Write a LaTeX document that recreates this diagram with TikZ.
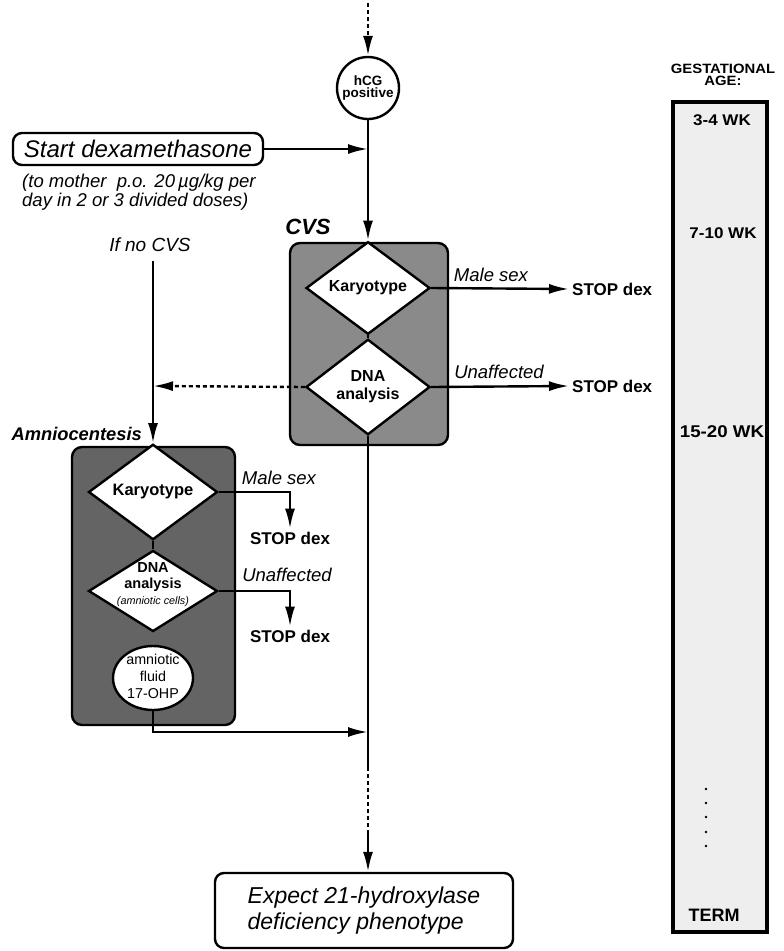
\documentclass[tikz,border=0pt]{standalone}
\usepackage{fontspec}
\setmainfont{Liberation Sans}
\newfontfamily\widefont[FakeStretch=1.1]{Liberation Sans}
\usetikzlibrary{arrows.meta,shapes.geometric}
\newcommand{\fsz}[2]{\fontsize{#1}{#2}\selectfont}
\definecolor{cvsgray}{RGB}{138,138,138}
\definecolor{amngray}{RGB}{100,100,100}
\definecolor{barfill}{RGB}{238,238,238}
\begin{document}
\begin{tikzpicture}[x=1pt,y=-1pt,
  line width=2.4pt,
  arr/.style={-{Latex[length=20pt,width=10pt]}},
  dsh/.style={dash pattern=on 4pt off 3pt},
  dia/.style={shape=diamond, draw, fill=white, line width=2.4pt, minimum width=124pt, minimum height=80pt, inner sep=0pt, align=center},
  rbox/.style={draw, rounded corners=9pt, line width=2.4pt, fill=white},
  grp/.style={draw, rounded corners=10pt, line width=2.4pt, inner sep=0pt},
  lbl/.style={inner sep=0pt, font=\itshape\fsz{18.5}{20}},
  stopn/.style={inner sep=2pt, font=\bfseries\fsz{17}{20}},
  wk/.style={inner sep=0pt, font=\widefont\bfseries\fsz{15.5}{16}},
]
\path[use as bounding box] (0,0) rectangle (784,951);

% group boxes
\node[grp, fill=cvsgray, minimum width=158pt, minimum height=202pt] (cvsbox) at (369,344) {};
\node[grp, fill=amngray, minimum width=163pt, minimum height=278pt] (amnbox) at (153.5,586) {};

% top
\coordinate (top) at (368,3);
\coordinate (t2) at (368,36);
\node[circle, draw, fill=white, minimum size=62pt, inner sep=0pt, align=center, font=\bfseries\fsz{13.5}{12.5}] (hcg) at (368,88) {hCG\\positive};
\draw[dsh] (top) -- (t2);
\draw[arr] (t2) -- (hcg.north);

% dexamethasone
\node[rbox, minimum width=250pt, minimum height=32pt, inner sep=0pt, font=\itshape\fsz{24}{26}] (dex) at (138,149) {Start dexamethasone};
\node[anchor=west, align=left, inner sep=0pt, font=\itshape\fsz{18.5}{19}] (sub) at (21,192) {(to mother\ \ p.o. 20\,µg/kg per\\day in 2 or 3 divided doses)};
\coordinate (j1) at (368,149);
\draw[arr] (dex.east) -- (j1);

% CVS
\node[inner sep=0pt, font=\bfseries\itshape\fsz{22}{22}] (cvsl) at (308,227) {CVS};
\node[dia, font=\bfseries\fsz{16}{18}] (kar1) at (368,288) {Karyotype};
\node[dia, font=\bfseries\fsz{16}{18}] (dna1) at (368,387) {DNA\\analysis};
\draw[arr] (hcg.south) -- (kar1.north);
\draw (kar1.south) -- (dna1.north);
\node[stopn, anchor=west] (stop1) at (569,289) {STOP dex};
\node[stopn, anchor=west] (stop2) at (569,386) {STOP dex};
\draw[arr] (kar1.east) -- (stop1.west);
\draw[arr] (dna1.east) -- (stop2.west);
\node[lbl] (ms1) at (491,275) {Male sex};
\node[lbl] (un1) at (499,372) {Unaffected};

% if no CVS
\node[lbl, font=\itshape\fsz{19}{20}] (ifno) at (150,245) {If no CVS};
\coordinate (lt) at (153,261);
\coordinate (jl) at (153,386);
\draw[arr, dsh] (dna1.west) -- (jl);

% Amniocentesis
\node[anchor=east, inner sep=0pt, font=\bfseries\itshape\fsz{18.3}{20}] (amnl) at (143,434) {Amniocentesis};
\node[dia, minimum width=129pt, minimum height=81pt, font=\bfseries\fsz{16.5}{18}] (kar2) at (153,492) {Karyotype};
\node[dia, minimum width=129pt, minimum height=81pt] (dna2) at (153,591) {};
\node[align=center, inner sep=0pt, font=\bfseries\fsz{14.5}{16}] (dna2a) at (153,577) {DNA\\analysis};
\node[inner sep=0pt, font=\itshape\fsz{10.8}{12}] (dna2b) at (153,602) {(amniotic cells)};
\draw[arr] (lt) -- (kar2.north);
\draw (kar2.south) -- (dna2.north);
\node[stopn] (stop3) at (290,538) {STOP dex};
\node[stopn] (stop4) at (290,636) {STOP dex};
\draw[arr] (kar2.east) -| (stop3.north);
\draw[arr] (dna2.east) -| (stop4.north);
\node[lbl] (ms2) at (279,478) {Male sex};
\node[lbl] (un2) at (287,575) {Unaffected};
\node[ellipse, draw, fill=white, minimum width=80pt, minimum height=64pt, inner sep=0pt] (fl) at (153,678) {};
\node[align=center, inner sep=0pt, font=\fsz{14.3}{17}] (flt) at (153,676) {amniotic\\fluid\\17-OHP};
\coordinate (jm) at (368,732);
\draw[arr] (fl.south) |- (jm);

% main line to result
\coordinate (m1) at (368,767);
\coordinate (m2) at (368,832);
\node[rbox, minimum width=298pt, minimum height=75pt, align=left, font=\itshape\fsz{23}{26}] (fin) at (364,910.5) {Expect 21-hydroxylase\\deficiency phenotype};
\draw (dna1.south) -- (m1);
\draw[dsh] (m1) -- (m2);
\draw[arr] (m2) -- (m2 |- fin.north);

% gestational age bar
\node[align=center, inner sep=0pt, font=\widefont\bfseries\fsz{13.5}{12.5}] (gest) at (723,75) {GESTATIONAL\\AGE:};
\node[draw, line width=4pt, fill=barfill, minimum width=94pt, minimum height=830pt, inner sep=0pt] (bar) at (720,517) {};
\node[wk] (w34) at (722,120) {3-4 WK};
\node[wk] (w710) at (723,233) {7-10 WK};
\node[wk, font=\widefont\bfseries\fsz{17}{17}] (w1520) at (722,432) {15-20 WK};
\node[inner sep=0pt, font=\bfseries\fsz{18}{18}] (term) at (714,915) {TERM};
\foreach \yy in {789,803,817,832,846} \fill (706,\yy) circle[radius=1.4pt];
\end{tikzpicture}
\end{document}
